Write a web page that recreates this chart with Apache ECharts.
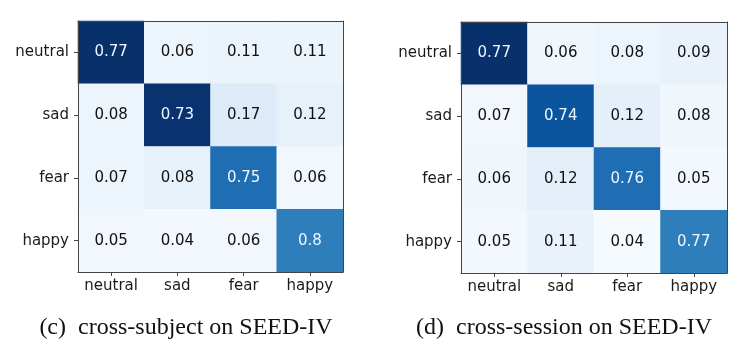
<!DOCTYPE html>
<html>
<head>
<meta charset="utf-8">
<style>
html,body{margin:0;padding:0;background:#fff;}
#chart{width:751px;height:349px;}
</style>
<script src="https://cdn.jsdelivr.net/npm/echarts@6/dist/echarts.min.js"></script>
</head>
<body>
<div id="chart"></div>
<script>
// ---- data ----
var classes = ['neutral', 'sad', 'fear', 'happy'];
// rows = true class (top to bottom), cols = predicted class (left to right)
var valuesC = [
  [0.77, 0.06, 0.11, 0.11],
  [0.08, 0.73, 0.17, 0.12],
  [0.07, 0.08, 0.75, 0.06],
  [0.05, 0.04, 0.06, 0.8]
];
// colour intensity of each cell as drawn (Blues scale position)
var shadesC = [
  [1.00, 0.05, 0.06, 0.06],
  [0.05, 0.99, 0.13, 0.08],
  [0.05, 0.08, 0.76, 0.03],
  [0.03, 0.02, 0.03, 0.70]
];
var valuesD = [
  [0.77, 0.06, 0.08, 0.09],
  [0.07, 0.74, 0.12, 0.08],
  [0.06, 0.12, 0.76, 0.05],
  [0.05, 0.11, 0.04, 0.77]
];
var shadesD = [
  [1.00, 0.04, 0.05, 0.07],
  [0.03, 0.86, 0.09, 0.04],
  [0.04, 0.10, 0.76, 0.02],
  [0.02, 0.07, 0.01, 0.70]
];
var captions = ['(c)\u2002cross-subject on SEED-IV', '(d)\u2002cross-session on SEED-IV'];

// ---- build ----
var blues = ['#f7fbff','#deebf7','#c6dbef','#9ecae1','#6baed6','#4292c6','#2171b5','#08519c','#08306b'];
function cells(vals, shades) {
  var out = [];
  for (var r = 0; r < vals.length; r++) {
    for (var c = 0; c < vals[r].length; c++) {
      out.push({
        value: [c, r, shades[r][c], vals[r][c]],
        label: { color: shades[r][c] > 0.5 ? '#eef6ff' : '#111' }
      });
    }
  }
  return out;
}
var grids = [
  { left: 78, top: 21, width: 265, height: 251 },
  { left: 461, top: 22, width: 266, height: 251 }
];
var sansFont = "'DejaVu Sans', sans-serif";
function xAxes(gi) {
  return [{
    type: 'category', gridIndex: gi, data: classes, position: 'bottom', z: 10,
    axisLine: { show: true, lineStyle: { color: '#444', width: 1 } },
    axisTick: { show: true, alignWithLabel: true, interval: 0, length: 4, lineStyle: { color: '#444' } },
    axisLabel: { interval: 0, color: '#1a1a1a', fontFamily: sansFont, fontSize: 15, margin: 7 },
    splitLine: { show: false }
  }, {
    type: 'category', gridIndex: gi, data: classes, position: 'top', z: 10,
    axisLine: { show: true, lineStyle: { color: '#444', width: 1 } },
    axisTick: { show: false }, axisLabel: { show: false }, splitLine: { show: false }
  }];
}
function yAxes(gi) {
  return [{
    type: 'category', gridIndex: gi, data: classes, inverse: true, position: 'left', z: 10,
    axisLine: { show: true, lineStyle: { color: '#444', width: 1 } },
    axisTick: { show: true, alignWithLabel: true, interval: 0, length: 4, lineStyle: { color: '#444' } },
    axisLabel: { interval: 0, color: '#1a1a1a', fontFamily: sansFont, fontSize: 15, margin: 9 },
    splitLine: { show: false }
  }, {
    type: 'category', gridIndex: gi, data: classes, inverse: true, position: 'right', z: 10,
    axisLine: { show: true, lineStyle: { color: '#444', width: 1 } },
    axisTick: { show: false }, axisLabel: { show: false }, splitLine: { show: false }
  }];
}
var serifStyle = { fontFamily: "'Liberation Serif', serif", fontWeight: 'normal', fontSize: 24, color: '#111' };
var option = {
  backgroundColor: '#ffffff',
  animation: false,
  grid: grids,
  xAxis: xAxes(0).concat(xAxes(1)),
  yAxis: yAxes(0).concat(yAxes(1)),
  visualMap: [
    { show: false, seriesIndex: 0, dimension: 2, min: 0, max: 1, inRange: { color: blues } },
    { show: false, seriesIndex: 1, dimension: 2, min: 0, max: 1, inRange: { color: blues } }
  ],
  title: [
    { text: captions[0], left: 181, top: 311, textAlign: 'center', textStyle: serifStyle },
    { text: captions[1], left: 559, top: 311, textAlign: 'center', textStyle: serifStyle }
  ],
  series: [
    { type: 'heatmap', xAxisIndex: 0, yAxisIndex: 0, data: cells(valuesC, shadesC),
      label: { show: true, fontFamily: sansFont, fontSize: 15, formatter: function (p) { return String(p.value[3]); } },
      itemStyle: { borderWidth: 0 } },
    { type: 'heatmap', xAxisIndex: 2, yAxisIndex: 2, data: cells(valuesD, shadesD),
      label: { show: true, fontFamily: sansFont, fontSize: 15, formatter: function (p) { return String(p.value[3]); } },
      itemStyle: { borderWidth: 0 } }
  ]
};
var chart = echarts.init(document.getElementById('chart'), null, { renderer: 'canvas' });
chart.setOption(option);
</script>
</body>
</html>
